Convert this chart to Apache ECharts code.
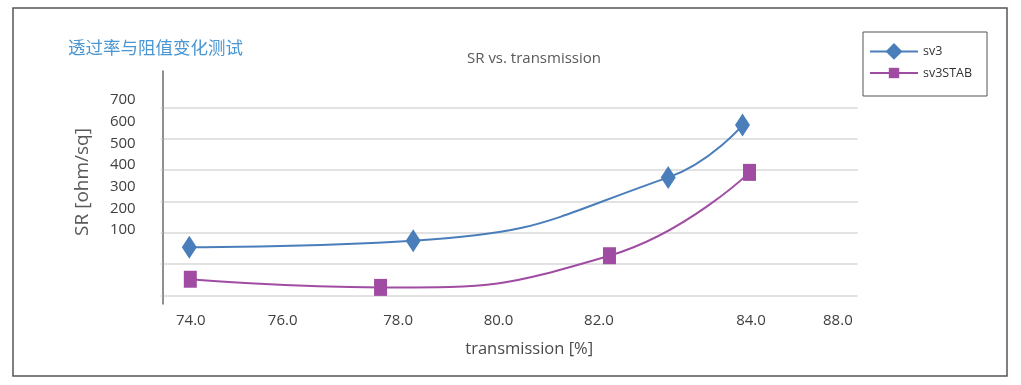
<!DOCTYPE html>
<html>
<head>
<meta charset="utf-8">
<script src="https://cdn.jsdelivr.net/npm/echarts@6/dist/echarts.min.js"></script>
<style>
html,body{margin:0;padding:0;background:#fff;}
#c{width:1021px;height:385px;}
</style>
</head>
<body>
<div id="c"></div>
<script>
// ---- data ----
const seriesNames = ['sv3', 'sv3STAB'];
const sv3X = [73.84, 78.30, 83.38, 84.86];
const sv3Y = [154, 175, 377, 544];
const stabX = [73.86, 77.65, 82.21, 85.00];
const stabY = [52, 26, 127, 393];
const xTickLabels = ['74.0', '76.0', '78.0', '80.0', '82.0', '84.0', '88.0'];
const xTickValues = [73.87, 75.7, 78.0, 80.0, 82.0, 85.03, 86.76];
const yLabelValues = [100, 200, 300, 400, 500, 600, 700];
const yGridValues = [0, 100, 200, 300, 400, 500, 600];

const FONT = '"Open Sans", sans-serif';
const BLUE = '#4a7ebb';
const PURPLE = '#a04ca3';

const chart = echarts.init(document.getElementById('c'), null, {renderer: 'canvas'});
const zip = (xs, ys) => xs.map((x, i) => [x, ys[i]]);

chart.setOption({
  backgroundColor: '#fff',
  animation: false,
  title: [
    {text: '透过率与阻值变化测试', left: 63, top: 34,
     textStyle: {fontFamily: '"Noto Sans CJK SC", sans-serif', fontSize: 17.5, fontWeight: 'normal', color: '#4a96d2'}},
    {text: 'SR vs. transmission', left: 529, top: 46, textAlign: 'center',
     textStyle: {fontFamily: FONT, fontSize: 15, fontWeight: 'normal', color: '#595959'}}
  ],
  legend: [
    {data: [seriesNames[0]], left: 869, top: 43, padding: 0, itemWidth: 48, itemHeight: 21, itemGap: 0,
     textStyle: {fontFamily: FONT, fontSize: 12.5, color: '#333'}},
    {data: [seriesNames[1]], left: 869, top: 66.5, padding: 0, itemWidth: 48, itemHeight: 13, itemGap: 0,
     textStyle: {fontFamily: FONT, fontSize: 12.5, color: '#333'}}
  ],
  graphic: [
    {type: 'rect', shape: {x: 13, y: 8, width: 994, height: 368}, style: {fill: 'none', stroke: '#555', lineWidth: 1.5}, silent: true},
    {type: 'rect', shape: {x: 863, y: 32, width: 124, height: 64}, style: {fill: 'none', stroke: '#555', lineWidth: 1}, silent: true}
  ],
  grid: {left: 162.7, right: 163.3, top: 71, bottom: 81, containLabel: false},
  xAxis: {
    type: 'value', min: 73.31, max: 87.155,
    axisLine: {show: false}, axisTick: {show: false}, splitLine: {show: false},
    axisLabel: {
      customValues: xTickValues, margin: 9,
      fontFamily: FONT, fontSize: 15, color: '#404040',
      formatter: function (v) {
        const i = xTickValues.findIndex(t => Math.abs(t - v) < 1e-6);
        return i >= 0 ? xTickLabels[i] : '';
      }
    },
    name: 'transmission [%]', nameLocation: 'middle', nameGap: 37,
    nameTextStyle: {fontFamily: FONT, fontSize: 16.5, color: '#4a4a4a', padding: [0, 0, 0, 38]}
  },
  yAxis: [
    {
      type: 'value', min: -27, max: 716.5,
      axisLine: {show: true, lineStyle: {color: '#6b6b6b', width: 1.5}},
      axisTick: {show: true, customValues: yGridValues, length: 2, lineStyle: {color: '#d4d4d4', width: 1.5}},
      axisLabel: {show: false},
      splitLine: {show: true, lineStyle: {color: '#d9d9d9', width: 1.5}},
      name: 'SR [ohm/sq]', nameLocation: 'middle', nameGap: 71, nameRotate: 90,
      nameTextStyle: {fontFamily: FONT, fontSize: 19, color: '#5a5a5a', padding: [0, 0, 0, 11]}
    },
    {
      type: 'value', min: -241.5, max: 833.8, position: 'left',
      axisLine: {show: false}, axisTick: {show: false}, splitLine: {show: false},
      axisLabel: {customValues: yLabelValues, margin: 27, fontFamily: FONT, fontSize: 15, color: '#404040'}
    }
  ],
  series: [
    {
      name: seriesNames[0], type: 'line', xAxisIndex: 0, yAxisIndex: 0,
      data: zip(sv3X, sv3Y), smooth: 0.5,
      symbol: 'diamond', symbolSize: [15, 23],
      lineStyle: {color: BLUE, width: 2}, itemStyle: {color: BLUE}
    },
    {
      name: seriesNames[1], type: 'line', xAxisIndex: 0, yAxisIndex: 0,
      data: zip(stabX, stabY), smooth: 0.5,
      symbol: 'rect', symbolSize: [13, 17],
      lineStyle: {color: PURPLE, width: 2}, itemStyle: {color: PURPLE}
    }
  ]
});
</script>
</body>
</html>
